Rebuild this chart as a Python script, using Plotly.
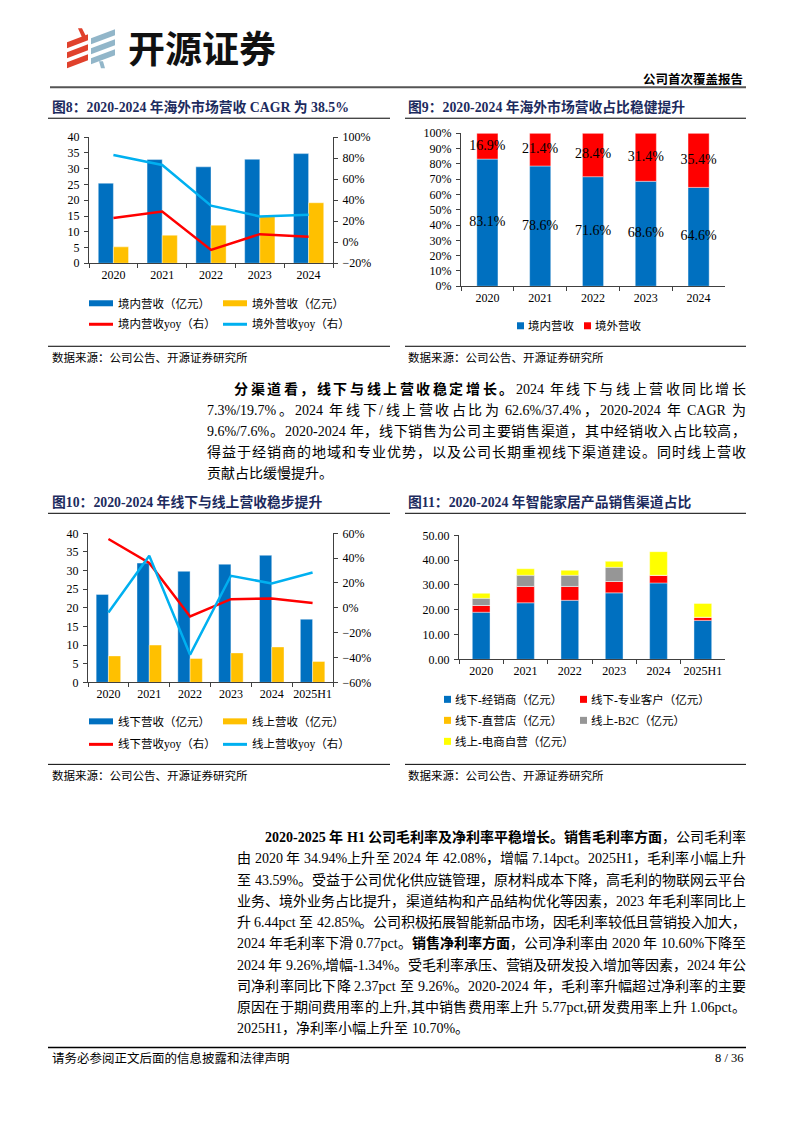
import plotly.graph_objects as go

# Page is 794x1123. Page pixel coordinates are mapped into the figure,
# compensating for the page margins around the figure and the capture's vertical scale.
OFF_X, OFF_Y, VSCALE = 8, 16, 0.987
W, H = 778, 1094


def X(px):
    return (px - OFF_X) / W


def Y(py):
    return 1 - (py / VSCALE - OFF_Y) / H


# ---------------- data ----------------
years5 = ["2020", "2021", "2022", "2023", "2024"]
years6 = ["2020", "2021", "2022", "2023", "2024", "2025H1"]

# Fig 8
dom_rev = [25.4, 32.9, 30.6, 33.0, 34.8]
ovs_rev = [5.2, 8.9, 12.1, 14.8, 19.2]
dom_yoy = [0.23, 0.293, -0.073, 0.077, 0.052]
ovs_yoy = [0.83, 0.736, 0.348, 0.246, 0.261]

# Fig 9
dom_share = [0.831, 0.786, 0.716, 0.686, 0.646]
ovs_share = [0.169, 0.214, 0.284, 0.314, 0.354]

# Fig 10
off_rev = [23.6, 32.0, 29.8, 31.7, 34.1, 16.95]
on_rev = [7.1, 10.0, 6.4, 7.9, 9.5, 5.6]
off_yoy = [0.554, 0.361, -0.07, 0.07, 0.075, 0.038]
on_yoy = [-0.038, 0.42, -0.377, 0.258, 0.196, 0.285]

# Fig 11
ch_names = ["线下-经销商（亿元）", "线下-专业客户（亿元）", "线下-直营店（亿元）",
            "线上-B2C（亿元）", "线上-电商自营（亿元）"]
ch_dealer = [19.0, 22.8, 23.8, 26.8, 30.8, 15.7]
ch_pro = [2.7, 6.6, 5.6, 4.6, 3.1, 1.3]
ch_store = [0, 0, 0, 0, 0, 0]
ch_b2c = [2.9, 4.5, 4.5, 5.7, 0, 0]
ch_ecom = [2.0, 2.6, 2.0, 2.4, 9.5, 5.5]

# ---------------- styles ----------------
BLUE = "#0070C0"
ORANGE = "#FFC000"
RED = "#FF0000"
LBLUE = "#00B0F0"
GRAY = "#969696"
YELLOW = "#FFFF00"
NAVY = "#1d2b5e"
AXC = "#404040"
SERIF = "Liberation Serif, Noto Sans CJK SC, serif"
CJK = "Liberation Serif, Noto Sans CJK SC"
ch_colors = [BLUE, RED, ORANGE, GRAY, YELLOW]

fig = go.Figure()
bar_line = dict(color="rgba(255,255,255,0.5)", width=0.8)

# Fig 8 traces
fig.add_trace(go.Bar(x=years5, y=dom_rev, name="境内营收（亿元）", marker=dict(color=BLUE, line=bar_line),
                     width=0.31, offset=-0.31, xaxis="x", yaxis="y"))
fig.add_trace(go.Bar(x=years5, y=ovs_rev, name="境外营收（亿元）", marker=dict(color=ORANGE, line=bar_line),
                     width=0.31, offset=0.0, xaxis="x", yaxis="y"))
fig.add_trace(go.Scatter(x=years5, y=dom_yoy, name="境内营收yoy（右）", mode="lines",
                         line=dict(color=RED, width=2.5), xaxis="x", yaxis="y2"))
fig.add_trace(go.Scatter(x=years5, y=ovs_yoy, name="境外营收yoy（右）", mode="lines",
                         line=dict(color=LBLUE, width=2.5), xaxis="x", yaxis="y2"))

# Fig 9 traces (stacked via base)
fig.add_trace(go.Bar(x=years5, y=dom_share, name="境内营收", marker=dict(color=BLUE, line=bar_line),
                     width=0.4, offset=-0.2, xaxis="x2", yaxis="y3"))
fig.add_trace(go.Bar(x=years5, y=ovs_share, base=dom_share, name="境外营收",
                     marker=dict(color=RED, line=bar_line),
                     width=0.4, offset=-0.2, xaxis="x2", yaxis="y3"))
fig.add_trace(go.Scatter(x=years5, y=[d / 2 for d in dom_share], mode="text",
                         text=[f"{d * 100:.1f}%" for d in dom_share],
                         textfont=dict(family=SERIF, size=14, color="#000"),
                         xaxis="x2", yaxis="y3", hoverinfo="skip"))
fig.add_trace(go.Scatter(x=years5, y=[d + o / 2 for d, o in zip(dom_share, ovs_share)], mode="text",
                         text=[f"{o * 100:.1f}%" for o in ovs_share],
                         textfont=dict(family=SERIF, size=14, color="#000"),
                         xaxis="x2", yaxis="y3", hoverinfo="skip"))

# Fig 10 traces
fig.add_trace(go.Bar(x=years6, y=off_rev, name="线下营收（亿元）", marker=dict(color=BLUE, line=bar_line),
                     width=0.3, offset=-0.3, xaxis="x3", yaxis="y4"))
fig.add_trace(go.Bar(x=years6, y=on_rev, name="线上营收（亿元）", marker=dict(color=ORANGE, line=bar_line),
                     width=0.3, offset=0.0, xaxis="x3", yaxis="y4"))
fig.add_trace(go.Scatter(x=years6, y=off_yoy, name="线下营收yoy（右）", mode="lines",
                         line=dict(color=RED, width=2.5), xaxis="x3", yaxis="y5"))
fig.add_trace(go.Scatter(x=years6, y=on_yoy, name="线上营收yoy（右）", mode="lines",
                         line=dict(color=LBLUE, width=2.5), xaxis="x3", yaxis="y5"))

# Fig 11 traces (stacked via base)
series11 = [ch_dealer, ch_pro, ch_store, ch_b2c, ch_ecom]
base = [0.0] * len(years6)
for vals, nm, col in zip(series11, ch_names, ch_colors):
    fig.add_trace(go.Bar(x=years6, y=vals, base=list(base), name=nm,
                         marker=dict(color=col, line=bar_line),
                         width=0.4, offset=-0.2, xaxis="x4", yaxis="y6"))
    base = [b + v for b, v in zip(base, vals)]

tickfont = dict(family=SERIF, size=12, color="#000")


def xcat(domain, anchor):
    return dict(domain=domain, anchor=anchor, type="category", showline=True, linecolor=AXC,
                linewidth=1, ticks="outside", ticklen=4, tickcolor=AXC, tickson="boundaries",
                tickangle=0, tickfont=tickfont, showgrid=False, zeroline=False, fixedrange=True)


def yax(domain, anchor, rng, dtick, fmt=None, side="left", overlay=None):
    d = dict(domain=domain, anchor=anchor, range=rng, dtick=dtick, showline=True, linecolor=AXC,
             linewidth=1, ticks="outside", ticklen=4, tickcolor=AXC, tickfont=tickfont,
             showgrid=False, zeroline=False, side=side, ticklabelstandoff=2)
    if fmt:
        d["tickformat"] = fmt
    if overlay:
        d["overlaying"] = overlay
        d.pop("domain")
    return d


layout = dict(
    width=W, height=H, margin=dict(l=0, r=0, t=0, b=0, pad=0), autosize=False,
    paper_bgcolor="white", plot_bgcolor="white", showlegend=False, barmode="overlay",
    font=dict(family=CJK, color="#000"),
    xaxis=xcat([X(89), X(333)], "y"),
    yaxis=yax([Y(264), Y(138)], "x", [0, 40], 5),
    yaxis2=yax(None, "x", [-0.2, 1.0], 0.2, ".0%", "right", "y"),
    xaxis2=xcat([X(461), X(725)], "y3"),
    yaxis3=yax([Y(287), Y(134)], "x2", [0, 1], 0.1, ".0%"),
    xaxis3=xcat([X(88), X(333)], "y4"),
    yaxis4=yax([Y(683), Y(534)], "x3", [0, 40], 5),
    yaxis5=yax(None, "x3", [-0.6, 0.6], 0.2, ".0%", "right", "y4"),
    xaxis4=xcat([X(459), X(725)], "y6"),
    yaxis6=yax([Y(660), Y(536)], "x4", [0, 50], 10, ".2f"),
)
fig.update_layout(**layout)

annotations = []
shapes = []


def text(px, py, s, size=14, bold=False, color="#000", anchor="left", family=CJK, pad=1):
    if bold:
        s = "<b>" + s + "</b>"
    annotations.append(dict(x=X(px), y=Y(py), xref="paper", yref="paper", text=s, showarrow=False,
                            xanchor=anchor, yanchor="middle", borderpad=pad,
                            font=dict(family=family, size=size, color=color)))


def hline(x0, x1, py, color="#000", width=1):
    shapes.append(dict(type="line", xref="paper", yref="paper", x0=X(x0), x1=X(x1), y0=Y(py), y1=Y(py),
                       line=dict(color=color, width=width)))


def rect(x0, y0, x1, y1, color):
    shapes.append(dict(type="rect", xref="paper", yref="paper", x0=X(x0), x1=X(x1), y0=Y(y1), y1=Y(y0),
                       fillcolor=color, line=dict(width=0)))


def poly(points, color):
    path = "M " + " L ".join(f"{X(a):.5f},{Y(b):.5f}" for a, b in points) + " Z"
    shapes.append(dict(type="path", xref="paper", yref="paper", path=path, fillcolor=color,
                       line=dict(width=0)))


# ---------------- header ----------------
LOGO_RED = "#e0412c"
LOGO_BLUE = "#92b6c9"
poly([(78, 29), (82, 29), (86, 37), (82, 38)], LOGO_RED)
for yc in (42, 52, 62):
    poly([(67, yc + 1), (88, yc - 7), (88, yc - 1), (67, yc + 7)], LOGO_RED)
for yc in (38, 48, 58):
    poly([(91, yc + 1), (115, yc - 8), (115, yc - 2), (91, yc + 7)], LOGO_BLUE)
poly([(99, 62), (103, 62), (105, 69), (101, 69)], LOGO_BLUE)
text(126, 48, "开源证券", size=37, bold=True, color="#111", family="Noto Sans CJK SC")
text(745, 80, "公司首次覆盖报告", size=12.5, bold=True, anchor="right")
hline(50, 746, 88, color="#555", width=2)

# ---------------- chart titles ----------------
text(50, 108, "图8：2020-2024 年海外市场营收 CAGR 为 38.5%", size=13.8, bold=True, color=NAVY)
text(406, 108, "图9：2020-2024 年海外市场营收占比稳健提升", size=13.8, bold=True, color=NAVY)
hline(48, 390, 119)
hline(405, 746, 119)
text(50, 503, "图10：2020-2024 年线下与线上营收稳步提升", size=13.8, bold=True, color=NAVY)
text(406, 503, "图11：2020-2024 年智能家居产品销售渠道占比", size=13.8, bold=True, color=NAVY)
hline(48, 390, 514)
hline(405, 746, 514)

# ---------------- legends ----------------
LF = 11.5
rect(89, 301, 113, 307, BLUE); text(116, 304, "境内营收（亿元）", LF)
rect(223, 301, 247, 307, ORANGE); text(250, 304, "境外营收（亿元）", LF)
hline(89, 113, 325, RED, 3); text(116, 325, "境内营收yoy（右）", LF)
hline(223, 247, 325, LBLUE, 3); text(250, 325, "境外营收yoy（右）", LF)
rect(517, 323, 524, 330, BLUE); text(526, 326, "境内营收", LF)
rect(584, 323, 591, 330, RED); text(593, 326, "境外营收", LF)
rect(89, 719, 113, 725, BLUE); text(116, 722, "线下营收（亿元）", LF)
rect(223, 719, 247, 725, ORANGE); text(250, 722, "线上营收（亿元）", LF)
hline(89, 113, 745, RED, 3); text(116, 745, "线下营收yoy（右）", LF)
hline(223, 247, 745, LBLUE, 3); text(250, 745, "线上营收yoy（右）", LF)
leg11 = [(444, 700), (580, 700), (444, 721), (580, 721), (444, 742)]
for (lx, ly), nm, col in zip(leg11, ch_names, ch_colors):
    rect(lx, ly - 3.5, lx + 7, ly + 3.5, col)
    text(lx + 9, ly, nm, LF)

# ---------------- sources ----------------
SRC = "数据来源：公司公告、开源证券研究所"
hline(48, 390, 347)
hline(405, 746, 347)
text(50, 358, SRC, 11.5)
text(406, 358, SRC, 11.5)
hline(48, 390, 765)
hline(405, 746, 765)
text(50, 776, SRC, 11.5)
text(406, 776, SRC, 11.5)

# ---------------- body text (justified, Times metrics for latin runs) ----------------
LAT_W = {".": 0.25, ",": 0.25, "%": 0.833, "/": 0.278, "-": 0.333, "p": 0.5, "c": 0.444, "t": 0.278,
         "H": 0.722, "C": 0.667, "A": 0.722, "G": 0.722, "R": 0.667}
LAT_WB = dict(LAT_W, **{"%": 1.0, "H": 0.778, "C": 0.722, "G": 0.778, "R": 0.722})


def is_wide(ch):
    return ord(ch) >= 0x2E80


def tokens_of(line):
    # line: string where **...** marks bold
    toks = []  # [text, bold, width_em, space_before_em, wide]
    bold = False
    pend = 0.0
    i = 0
    while i < len(line):
        if line.startswith("**", i):
            bold = not bold
            i += 2
            continue
        ch = line[i]
        i += 1
        if ch == " ":
            pend += 0.25
            continue
        if is_wide(ch):
            toks.append([ch, bold, 1.0, pend, True])
        else:
            wt = (LAT_WB if bold else LAT_W).get(ch, 0.5)
            if toks and not toks[-1][4] and pend == 0 and toks[-1][1] == bold:
                toks[-1][0] += ch
                toks[-1][2] += wt
            else:
                toks.append([ch, bold, wt, pend, False])
        pend = 0.0
    return toks


BF = 14.0
RIGHT = 745


def body_line(x0, py, line, justify=True):
    toks = tokens_of(line)
    natural = sum((t[2] + t[3]) * BF for t in toks)
    gaps = len(toks) - 1
    extra = (RIGHT - x0 - natural) / gaps if (justify and gaps > 0) else 0.0
    extra = max(extra, -0.5)
    x = x0
    for k, (s, b, w, sp, wide) in enumerate(toks):
        x += sp * BF + (extra if k > 0 else 0.0)
        txt = "<b>" + s + "</b>" if b else s
        annotations.append(dict(x=X(x), y=Y(py), xref="paper", yref="paper", text=txt, showarrow=False,
                                xanchor="left", yanchor="middle", borderpad=0,
                                font=dict(family=CJK, size=BF, color="#000")))
        x += w * BF


para1 = [
    (233, 390, "**分渠道看，线下与线上营收稳定增长。**2024 年线下与线上营收同比增长"),
    (206, 411, "7.3%/19.7%。2024 年线下/线上营收占比为 62.6%/37.4%，2020-2024 年 CAGR 为"),
    (206, 432, "9.6%/7.6%。2020-2024 年，线下销售为公司主要销售渠道，其中经销收入占比较高，"),
    (206, 453, "得益于经销商的地域和专业优势，以及公司长期重视线下渠道建设。同时线上营收"),
    (206, 474, "贡献占比缓慢提升。"),
]
para2 = [
    (264, 838, "**2020-2025 年 H1 公司毛利率及净利率平稳增长。销售毛利率方面**，公司毛利率"),
    (236, 859, "由 2020 年 34.94%上升至 2024 年 42.08%，增幅 7.14pct。2025H1，毛利率小幅上升"),
    (236, 881, "至 43.59%。受益于公司优化供应链管理，原材料成本下降，高毛利的物联网云平台"),
    (236, 902, "业务、境外业务占比提升，渠道结构和产品结构优化等因素，2023 年毛利率同比上"),
    (236, 923, "升 6.44pct 至 42.85%。公司积极拓展智能新品市场，因毛利率较低且营销投入加大，"),
    (236, 944, "2024 年毛利率下滑 0.77pct。**销售净利率方面**，公司净利率由 2020 年 10.60%下降至"),
    (236, 966, "2024 年 9.26%,增幅-1.34%。受毛利率承压、营销及研发投入增加等因素，2024 年公"),
    (236, 987, "司净利率同比下降 2.37pct 至 9.26%。2020-2024 年，毛利率升幅超过净利率的主要"),
    (236, 1008, "原因在于期间费用率的上升,其中销售费用率上升 5.77pct,研发费用率上升 1.06pct。"),
    (236, 1029, "2025H1，净利率小幅上升至 10.70%。"),
]
for para in (para1, para2):
    for k, (px, py, s) in enumerate(para):
        body_line(px, py, s, justify=(k < len(para) - 1))

# ---------------- footer ----------------
hline(48, 746, 1048, "#000", 1.5)
text(50, 1059, "请务必参阅正文后面的信息披露和法律声明", 12.5)
text(745, 1059, "8 / 36", 12.5, anchor="right", family=SERIF)

fig.update_layout(annotations=annotations, shapes=shapes)
fig.write_html("out.html")
